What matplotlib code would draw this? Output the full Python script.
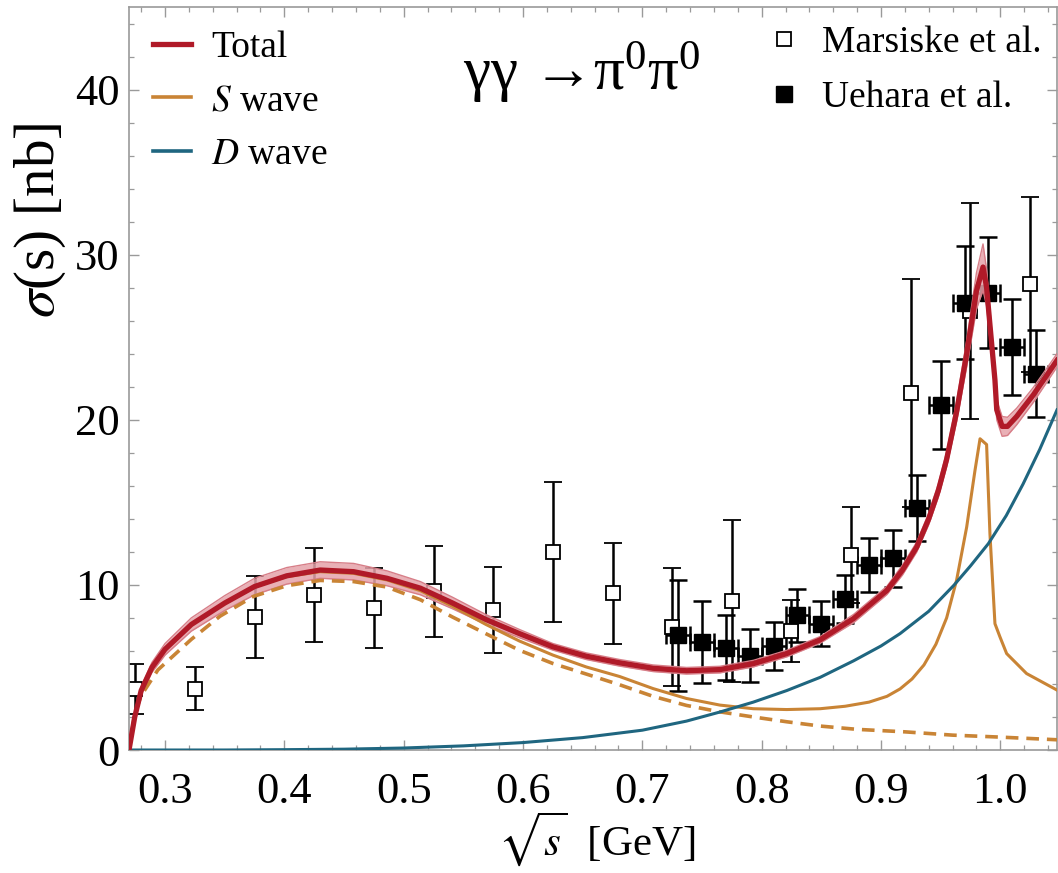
import matplotlib
matplotlib.use("Agg")
import matplotlib.pyplot as plt
from matplotlib.lines import Line2D
import numpy as np

plt.rcParams["font.family"] = "serif"
plt.rcParams["font.serif"] = ["Liberation Serif", "DejaVu Serif"]
plt.rcParams["mathtext.fontset"] = "stix"

# ---- theory curves: gamma gamma -> pi0 pi0 cross section [nb] vs sqrt(s) [GeV]
x_total = [0.2698, 0.2746, 0.280, 0.289, 0.300, 0.322, 0.350, 0.375, 0.402, 0.430,
           0.458, 0.486, 0.514, 0.541, 0.569, 0.597, 0.625, 0.653, 0.681, 0.709,
           0.737, 0.765, 0.793, 0.821, 0.849, 0.877, 0.905, 0.918, 0.930, 0.940,
           0.948, 0.955, 0.9634, 0.9718, 0.980, 0.9855, 0.9885, 0.991, 0.9955, 0.997,
           1.0015, 1.006, 1.0137, 1.0276, 1.0475]
sigma_total = [0.0, 2.0, 3.6, 5.0, 6.1, 7.6, 8.9, 9.9, 10.55, 10.9,
               10.8, 10.4, 9.8, 8.9, 7.9, 7.05, 6.25, 5.68, 5.28, 4.95,
               4.8, 4.87, 5.23, 5.84, 6.67, 7.96, 9.67, 10.9, 12.3, 14.0,
               15.7, 17.6, 20.5, 24.0, 27.8, 29.25, 28.0, 26.0, 22.4, 20.6,
               19.6, 19.6, 20.2, 21.5, 23.6]
band_half_width = [0.0, 0.15, 0.25, 0.3, 0.35, 0.4, 0.45, 0.5, 0.5, 0.5,
                   0.5, 0.45, 0.4, 0.35, 0.3, 0.25, 0.2, 0.2, 0.2, 0.2,
                   0.2, 0.2, 0.2, 0.2, 0.2, 0.25, 0.25, 0.3, 0.3, 0.35,
                   0.4, 0.45, 0.6, 0.8, 1.1, 1.4, 1.1, 0.9, 0.7, 0.6,
                   0.6, 0.55, 0.5, 0.45, 0.4]

x_swave = [0.2698, 0.2746, 0.280, 0.289, 0.300, 0.322, 0.350, 0.375, 0.402, 0.430,
           0.458, 0.486, 0.514, 0.541, 0.569, 0.597, 0.625, 0.653, 0.681, 0.709,
           0.737, 0.765, 0.793, 0.821, 0.849, 0.870, 0.890, 0.905, 0.916, 0.926,
           0.936, 0.946, 0.955, 0.9634, 0.9718, 0.9787, 0.983, 0.9885, 0.9913, 0.9955,
           0.9997, 1.0053, 1.022, 1.0475]
sigma_swave = [0.0, 2.0, 3.6, 5.0, 6.1, 7.6, 8.9, 9.9, 10.5, 10.8,
               10.7, 10.3, 9.65, 8.7, 7.6, 6.6, 5.75, 5.03, 4.45, 3.72,
               3.12, 2.72, 2.5, 2.45, 2.5, 2.65, 2.9, 3.25, 3.7, 4.3,
               5.15, 6.4, 8.0, 10.3, 13.5, 16.9, 18.85, 18.5, 13.1, 7.65,
               6.85, 5.84, 4.63, 3.63]

x_swave_born = [0.2698, 0.2746, 0.280, 0.294, 0.322, 0.346, 0.374, 0.402, 0.430, 0.458,
                0.486, 0.514, 0.541, 0.569, 0.597, 0.625, 0.653, 0.681, 0.709, 0.737,
                0.765, 0.793, 0.821, 0.849, 0.88, 0.92, 0.96, 1.0, 1.0475]
sigma_swave_born = [0.0, 2.2, 3.3, 4.85, 6.7, 8.1, 9.3, 9.95, 10.27, 10.2,
                    9.87, 9.1, 8.05, 7.04, 6.04, 5.24, 4.6, 3.95, 3.25, 2.7,
                    2.31, 2.0, 1.71, 1.45, 1.25, 1.1, 0.9, 0.78, 0.62]

x_dwave = [0.2698, 0.35, 0.40, 0.45, 0.50, 0.55, 0.60, 0.65, 0.70, 0.737,
           0.765, 0.793, 0.821, 0.849, 0.877, 0.90, 0.916, 0.94, 0.961, 0.975,
           0.99, 1.005, 1.019, 1.033, 1.0475]
sigma_dwave = [0.0, 0.0, 0.02, 0.05, 0.12, 0.25, 0.45, 0.75, 1.2, 1.75,
               2.3, 2.9, 3.6, 4.4, 5.4, 6.3, 7.05, 8.4, 9.97, 11.15,
               12.5, 14.2, 16.1, 18.2, 20.6]

# ---- experimental data
marsiske_x = [0.275, 0.325, 0.375, 0.425, 0.475, 0.525, 0.575, 0.625,
              0.675, 0.725, 0.775, 0.825, 0.875, 0.925, 0.975, 1.025]
marsiske_y = [3.7, 3.7, 8.05, 9.4, 8.6, 9.6, 8.5, 12.0,
              9.5, 7.45, 9.0, 7.2, 11.8, 21.6, 26.6, 28.2]
marsiske_err = [1.5, 1.3, 2.5, 2.85, 2.45, 2.75, 2.6, 4.25,
                3.05, 3.55, 4.9, 1.9, 2.9, 6.9, 6.55, 5.3]

uehara_x = [0.73, 0.75, 0.77, 0.79, 0.81, 0.83, 0.85, 0.87,
            0.89, 0.91, 0.93, 0.95, 0.97, 0.99, 1.01, 1.03]
uehara_y = [6.95, 6.55, 6.2, 5.7, 6.3, 8.15, 7.65, 9.15,
            11.2, 11.6, 14.65, 20.9, 27.1, 27.7, 24.4, 22.8]
uehara_err = [3.35, 2.5, 1.95, 1.6, 1.45, 1.6, 1.35, 1.45,
              1.65, 1.7, 2.0, 2.65, 3.4, 3.35, 2.9, 2.65]
uehara_bin_half = [0.01] * 16

RED = "#b01a28"
BAND = "#e6a3aa"
BAND_EDGE = "#d77e88"
ORANGE = "#c98435"
BLUE = "#1f6680"
FRAME = "#9a9a9a"

fig = plt.figure(figsize=(10.58, 8.73), dpi=100)
ax = fig.add_axes([129 / 1058, 123 / 873, 928 / 1058, 743 / 873])

# data points (drawn beneath the curves)
ax.errorbar(marsiske_x, marsiske_y, yerr=marsiske_err, fmt="s", ms=10.5,
            mfc="white", mec="black", mew=1.3, ecolor="black",
            elinewidth=1.8, capsize=6.5, capthick=1.8, zorder=2)
ax.errorbar(uehara_x, uehara_y, yerr=uehara_err, xerr=uehara_bin_half, fmt="s",
            ms=12, color="black", ecolor="black",
            elinewidth=1.8, capsize=6.5, capthick=1.8, zorder=2)

# theory
tot = np.array(sigma_total)
hw = np.array(band_half_width)
ax.fill_between(x_total, tot - hw, tot + hw, color=BAND, alpha=0.85, lw=0, zorder=3)
ax.plot(x_total, tot + hw, color=BAND_EDGE, lw=1.0, zorder=3)
ax.plot(x_total, tot - hw, color=BAND_EDGE, lw=1.0, zorder=3)
ax.plot(x_swave_born, sigma_swave_born, color=ORANGE, lw=2.6, dashes=(3.5, 2.2), zorder=3)
ax.plot(x_swave, sigma_swave, color=ORANGE, lw=2.2, zorder=3)
ax.plot(x_dwave, sigma_dwave, color=BLUE, lw=2.2, zorder=3)
ax.plot(x_total, sigma_total, color=RED, lw=3.8, zorder=4)

ax.set_xlim(0.2698, 1.0475)
ax.set_ylim(0, 45)
ax.set_xticks([0.3, 0.4, 0.5, 0.6, 0.7, 0.8, 0.9, 1.0])
ax.set_xticklabels(["0.3", "0.4", "0.5", "0.6", "0.7", "0.8", "0.9", "1.0"])
ax.set_xticks(np.arange(0.28, 1.05, 0.02), minor=True)
ax.set_yticks([0, 10, 20, 30, 40])
ax.set_yticks(np.arange(0, 45, 2), minor=True)
ax.tick_params(which="both", direction="in", top=True, right=True,
               color=FRAME, labelsize=32)
ax.tick_params(axis="x", pad=16)
ax.tick_params(axis="y", pad=7)
ax.tick_params(which="major", length=7, width=1.0)
ax.tick_params(which="minor", length=3.5, width=0.9)
for sp in ax.spines.values():
    sp.set_color(FRAME)
    sp.set_linewidth(1.2)

ax.set_xlabel(r"$\sqrt{s}$  [GeV]", fontsize=31)
ax.xaxis.set_label_coords(0.504, -0.079)
ax.set_ylabel(r"$\sigma$(s) [nb]", fontsize=41)
ax.yaxis.set_label_coords(-0.066, 0.713)

fig.text(0.55, 0.917, "γγ →$\\mathregular{\\pi^0\\pi^0}$",
         fontsize=44, ha="center", va="center")

curve_handles = [Line2D([], [], color=RED, lw=3.8),
                 Line2D([], [], color=ORANGE, lw=2.6),
                 Line2D([], [], color=BLUE, lw=2.6)]
leg1 = ax.legend(curve_handles, ["Total", r"$S$ wave", r"$D$ wave"],
                 loc="upper left", bbox_to_anchor=(0.026, 0.968), frameon=False,
                 fontsize=27, handlelength=1.0, handletextpad=0.55,
                 labelspacing=0.5, borderaxespad=0, borderpad=0)
ax.add_artist(leg1)
data_handles = [Line2D([], [], ls="none", marker="s", ms=10.5, mfc="white",
                       mec="black", mew=1.3),
                Line2D([], [], ls="none", marker="s", ms=12, color="black")]
ax.legend(data_handles, ["Marsiske et al.", "Uehara et al."],
          loc="upper right", bbox_to_anchor=(0.983, 0.975), frameon=False,
          fontsize=27, handlelength=0.8, handletextpad=0.6,
          labelspacing=0.55, borderaxespad=0, borderpad=0)

fig.savefig("out.png", dpi=100)
